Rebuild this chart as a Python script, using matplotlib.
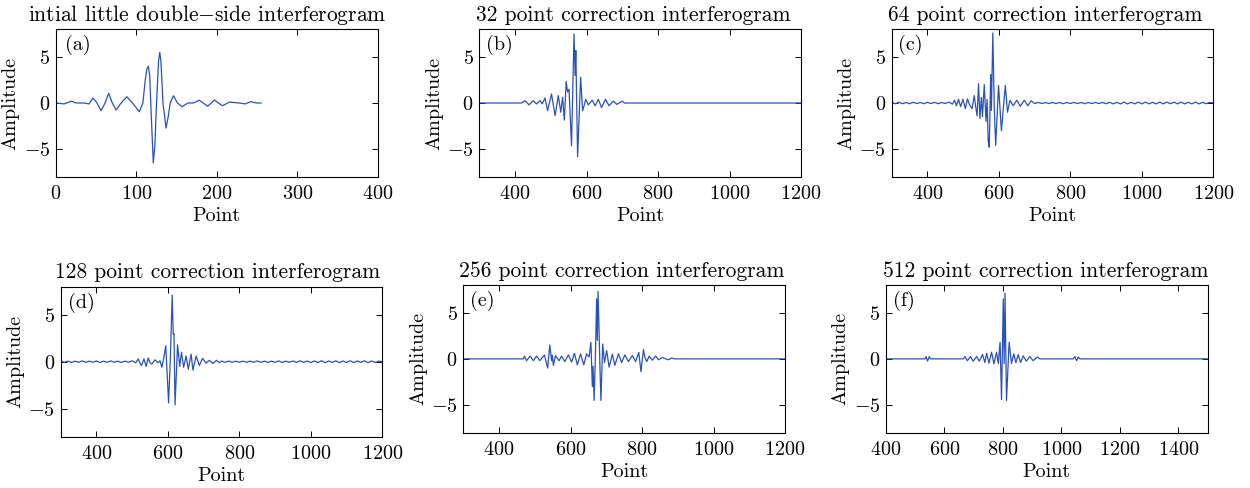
import matplotlib
matplotlib.use('Agg')
import matplotlib.pyplot as plt
import numpy as np

plt.rcParams['font.family'] = 'cmr10'
plt.rcParams['mathtext.fontset'] = 'cm'
plt.rcParams['axes.formatter.use_mathtext'] = True
plt.rcParams['font.size'] = 14.5

# (a) initial little double-side interferogram (extrema / crossings)
a_x = [0, 10, 19, 25, 35, 41, 46, 51, 56, 61, 65.5, 70, 74.6, 81, 88, 95, 103.6, 108, 111, 113,
       114.8, 116.5, 118.5, 121, 123, 125, 127.5, 129, 130.5, 133, 136.8, 139.5, 142, 146, 151, 156.7, 164, 171, 178, 183,
       188.6, 193, 197, 202, 207, 215.6, 228, 235, 242.5, 249, 255]
a_y = [0, -0.1, 0.2, 0, 0, -0.1, 0.54, 0, -0.84, 0, 1.05, 0, -0.76, 0, 0.68, 0, -0.95, 0, 2.5, 3.7,
       3.98, 3.0, -1.5, -6.5, -4.5, 0, 4.5, 5.5, 4.5, 0, -2.72, -1.5, 0, 0.79, 0, -0.4, 0, 0, 0.3, 0,
       -0.35, 0, 0.33, 0, -0.3, 0.1, 0, -0.1, 0.15, 0, 0]

# (b) 32 point correction
b_x = [300, 418, 428, 439, 451, 460, 470, 476, 484, 491, 502, 512, 521, 528, 533, 538, 543, 547, 551, 558,
       565, 568, 570, 575, 583.5, 589, 598, 605, 616, 624, 633, 642, 653, 663, 675, 685, 700, 706, 1200]
b_y = [0, 0, 0.25, -0.2, 0.25, -0.1, 0.25, -0.1, 0.55, -0.84, 0.98, -1.38, 0.8, -1.0, 0.6, -1.85, 2.35, 1.2, 1.5, -4.64,
       7.5, 3.0, 5.7, -5.84, 2.8, -0.85, 0.4, -0.2, 0.3, -0.3, 0.4, -0.5, 0.4, -0.3, 0.2, -0.15, 0.2, 0, 0]

# (c) 64 point correction
c_left = [0.06, -0.08, 0.08, -0.08, 0.06, -0.08, 0.08, -0.06, 0.06, -0.08, 0.08, -0.06, 0.08, -0.08, 0.06, -0.06, 0.1, -0.12]
c_main_x = [476, 481, 487, 493, 499, 506, 512, 518, 525, 531, 535, 539, 543, 547, 551, 554, 559, 564, 567, 570,
            573, 577, 579, 583, 587, 591, 599, 607, 618, 624, 631, 640, 650, 660, 671, 681, 690]
c_main_y = [0.3, -0.3, 0.4, -0.4, 0.4, -0.6, 0.45, -0.2, -0.6, 0.8, -0.4, -1.4, 2.1, -1.7, 0.6, -1.5, 2.0, -2.0, 0.4, -4.1,
            -4.8, 3.1, -0.8, 7.6, -0.4, -4.6, 1.9, -3.0, 1.9, -1.0, 0.3, -0.3, 0.3, -0.35, 0.3, -0.3, 0.25]
c_right = [-0.06, 0.06, -0.06, 0.05, -0.06, 0.06, -0.06, 0.06, -0.08, 0.06, -0.06, 0.06, -0.06, 0.06, -0.08, 0.06, -0.06, 0.06, -0.06, 0.06,
           -0.08, 0.08, -0.1, 0.08, -0.1, 0.1, -0.1, 0.08, -0.1, 0.1, -0.1, 0.1, -0.1, 0.08, -0.1, 0.1, -0.1, 0.1, -0.08, 0.1,
           -0.1, 0.1, -0.1, 0.08, -0.1, 0.1, -0.1, 0.08, -0.08, 0.06, 0.0]

# (d) 128 point correction
d_left = [0.06, -0.06, 0.06, -0.08, 0.06, -0.06, 0.08, -0.06, 0.06, -0.06, 0.08, -0.08, 0.06, -0.06, 0.08, -0.06, 0.06, -0.08, 0.06, -0.06, 0.1, -0.12]
d_main_x = [517, 521, 526, 533, 539, 545, 550, 555, 564, 572, 578, 583, 588, 594, 602, 607, 612, 615, 617, 620,
            627, 633, 638, 644, 651, 657, 665, 670, 679, 688, 697, 707, 716, 726, 736, 744]
d_main_y = [0.3, -0.1, -0.4, 0.3, -0.5, 0.4, -0.1, -0.25, 0.2, -0.1, 0.1, -0.6, 0.3, 1.7, -4.4, 0.6, 7.1, 2.9, 3.0, -4.6,
            1.8, -0.5, 1.0, -0.6, 0.6, -0.8, 0.8, -0.9, 0.6, -0.4, 0.35, -0.15, 0.15, -0.2, 0.15, -0.1]
d_right = [0.06, -0.06, 0.06, -0.06, 0.06, -0.06, 0.06, -0.06, 0.06, -0.06, 0.08, -0.06, 0.06, -0.08, 0.06, -0.06, 0.08, -0.08, 0.06, -0.06,
           0.08, -0.08, 0.1, -0.08, 0.08, -0.1, 0.08, -0.08, 0.1, -0.1, 0.08, -0.08, 0.1, -0.1, 0.08, -0.08, 0.1, -0.1, 0.08, -0.08,
           0.1, -0.1, 0.08, -0.08, 0.06, 0.0]

# (e) 256 point correction
e_x = [300, 468, 471, 477, 487, 496, 505, 514, 527, 536, 542, 547, 549, 552, 558, 568, 575, 584, 594, 603,
       611, 619, 628, 637, 645, 652, 657, 661, 663, 666, 670, 673, 675, 677, 680, 682, 685, 690, 695, 701,
       708, 717, 724, 734, 743, 752, 762, 773, 782, 791, 797, 804, 808, 813, 820, 829, 838, 846, 857, 866,
       874, 883, 890, 1200]
e_y = [0, 0, 0.3, -0.2, 0.3, -0.2, 0.3, -0.2, 0.43, -1.0, 1.5, -0.2, 0.4, -0.7, 0.35, -0.2, 0.3, -0.3, 0.43, -0.35,
       0.6, -0.65, 0.54, -0.65, 0.54, 0.2, 1.8, -3.0, -0.8, -4.5, 1.0, 6.5, 2.0, 7.3, 2.8, -0.5, -4.5, 1.6, -0.4, 0.9,
       -0.9, 0.5, -0.7, 0.54, -0.4, 0.43, -0.3, 0.35, -0.3, 0.7, -1.4, 1.0, 0.2, -0.3, 0.3, -0.15, 0.3, -0.1, 0.15, 0.0,
       -0.1, 0.1, 0, 0]

# (f) 512 point correction
f_x = [400, 533, 537, 542, 548, 552, 664, 670, 678, 689, 698, 710, 719, 730, 738, 744, 752, 761, 769, 778,
       784, 790, 795, 801, 804, 807, 812, 821, 829, 837, 844, 852, 860, 869, 880, 892, 903, 917, 926, 1040,
       1046, 1052, 1057, 1063, 1500]
f_y = [0, 0, 0.25, -0.25, 0.25, 0, 0, 0.25, -0.2, 0.25, -0.25, 0.25, -0.25, 0.47, -0.4, 0.6, -0.47, 0.72, -0.54, 0.72,
       -0.5, 1.8, -4.4, 6.5, -0.5, 7.1, -4.5, 1.8, -0.5, 0.54, -0.4, 0.47, -0.4, 0.33, -0.25, 0.25, -0.2, 0.2, 0, 0,
       0.25, -0.2, 0.2, 0, 0]

c_x = np.r_[np.arange(300, 471, 10), c_main_x, np.arange(700, 1201, 10)]
c_y = np.r_[c_left, c_main_y, c_right]
d_x = np.r_[np.arange(300, 511, 10), d_main_x, np.arange(750, 1201, 10)]
d_y = np.r_[d_left, d_main_y, d_right]

titles = ['intial little double$-$side interferogram', '32 point correction interferogram',
          '64 point correction interferogram', '128 point correction interferogram',
          '256 point correction interferogram', '512 point correction interferogram']
labels = ['(a)', '(b)', '(c)', '(d)', '(e)', '(f)']
series = [(a_x, a_y), (b_x, b_y), (c_x, c_y), (d_x, d_y), (e_x, e_y), (f_x, f_y)]
xlims = [(0, 400), (300, 1200), (300, 1200), (300, 1200), (300, 1200), (400, 1500)]
xticks = [range(0, 401, 100), range(400, 1201, 200), range(400, 1201, 200),
          range(400, 1201, 200), range(400, 1201, 200), range(400, 1401, 200)]

W, H = 1250, 488
boxes = [(56, 29.3, 321.7, 147.4), (479.3, 29.3, 321.7, 147.4), (891.7, 29.3, 321.6, 147.4),
         (60.7, 286.7, 321.6, 150), (463.3, 285, 321.7, 147.7), (886, 285, 321.7, 147.7)]
title_x = [0.47, 0.48, 0.476, 0.489, 0.491, 0.496]
lab_x = [0.028, 0.021, 0.021, 0.024, 0.021, 0.021]

fig = plt.figure(figsize=(12.5, 4.88), dpi=100)
for i in range(6):
    l, t, w, h = boxes[i]
    ax = fig.add_axes([l / W, 1 - (t + h) / H, w / W, h / H])
    x, y = series[i]
    ax.plot(x, y, color='#2c52b8', lw=0.9)
    ax.set_xlim(xlims[i])
    ax.set_ylim(-8, 8)
    ax.set_xticks(list(xticks[i]))
    ax.set_yticks([-5, 0, 5])
    ax.tick_params(direction='in', top=True, right=True, length=4, width=0.7, labelsize=14.5)
    ax.tick_params(axis='x', pad=6)
    ax.tick_params(axis='y', pad=4)
    for s in ax.spines.values():
        s.set_linewidth(0.8)
    ax.set_title(titles[i], x=title_x[i], pad=6, fontsize=15.5)
    ax.set_xlabel('Point', labelpad=3)
    ax.set_ylabel('Amplitude', labelpad=3)
    ax.text(lab_x[i], 0.96, labels[i], transform=ax.transAxes, ha='left', va='top', fontsize=14.5)

fig.savefig('out.png', dpi=100)
